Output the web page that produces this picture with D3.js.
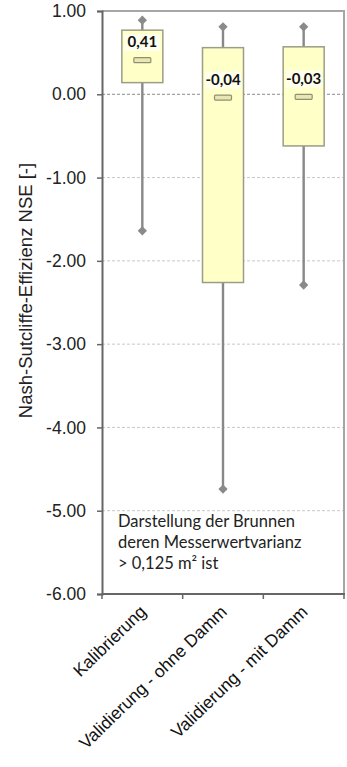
<!DOCTYPE html>
<html>
<head>
<meta charset="utf-8">
<script src="https://cdn.jsdelivr.net/npm/d3@7"></script>
<style>
  html, body { margin: 0; padding: 0; background: #fff; }
  svg { display: block; }
</style>
</head>
<body>
<svg id="chart" width="347" height="767"></svg>
<script>
// Box plot of Nash-Sutcliffe efficiency per model run
const categories = ["Kalibrierung", "Validierung - ohne Damm", "Validierung - mit Damm"];
const whiskerMax = [0.89, 0.81, 0.81];
const q3 = [0.77, 0.56, 0.57];
const median = [0.41, -0.04, -0.03];
const q1 = [0.14, -2.26, -0.62];
const whiskerMin = [-1.64, -4.74, -2.29];
const medianLabels = ["0,41", "-0,04", "-0,03"];
const yTicks = [1, 0, -1, -2, -3, -4, -5, -6];
const yTitle = "Nash-Sutcliffe-Effizienz NSE [-]";
const noteLines = ["Darstellung der Brunnen", "deren Messerwertvarianz", "> 0,125 m² ist"];

const svg = d3.select("#chart");
const plot = { left: 102, right: 344, top: 11, bottom: 594 };
const sans = "'Liberation Sans', Arial, sans-serif";
const humanist = "Lato, 'Open Sans', sans-serif";

const x = d3.scaleBand().domain(categories).range([plot.left, plot.right]).paddingInner(0).paddingOuter(0);
const y = d3.scaleLinear().domain([-6, 1]).range([plot.bottom, plot.top]);

// grid lines
svg.append("g").selectAll("line").data(yTicks.filter(t => t !== 1 && t !== -6)).join("line")
  .attr("x1", plot.left).attr("x2", plot.right)
  .attr("y1", d => y(d)).attr("y2", d => y(d))
  .attr("stroke", d => d === 0 ? "#8a8a8a" : "#c8c8c8")
  .attr("stroke-width", 1)
  .attr("stroke-dasharray", "3,2");

// plot frame (top and right)
svg.append("path")
  .attr("d", `M${plot.left},${plot.top}H${plot.right}V${plot.bottom}`)
  .attr("fill", "none").attr("stroke", "#a6a6a6").attr("stroke-width", 2);

// y axis
const yAxis = d3.axisLeft(y).tickValues(yTicks).tickSize(5).tickPadding(11)
  .tickFormat(d3.format(".2f"));
const gy = svg.append("g").attr("transform", `translate(${plot.left},0)`).call(yAxis);
gy.select(".domain").attr("stroke", "#666").attr("stroke-width", 2);
gy.selectAll(".tick line").attr("stroke", "#666").attr("stroke-width", 1.5);
gy.selectAll(".tick text")
  .attr("font-family", sans)
  .attr("font-size", 17.5).attr("fill", "#222")
  .text(d => d3.format(".2f")(d).replace("−", "-"));

// x axis with ticks at band boundaries
svg.append("line")
  .attr("x1", plot.left).attr("x2", plot.right + 1)
  .attr("y1", plot.bottom).attr("y2", plot.bottom)
  .attr("stroke", "#666").attr("stroke-width", 2);
const bounds = categories.map(c => x(c)).concat([x(categories[2]) + x.bandwidth()]);
svg.append("g").selectAll("line").data(bounds).join("line")
  .attr("x1", d => d).attr("x2", d => d)
  .attr("y1", plot.bottom).attr("y2", plot.bottom + 5)
  .attr("stroke", "#666").attr("stroke-width", 1.5);

svg.append("g").selectAll("text").data(categories).join("text")
  .attr("transform", d => `translate(${x(d) + x.bandwidth() / 2 + 5},${plot.bottom + 19}) rotate(-44)`)
  .attr("text-anchor", "end")
  .attr("font-family", sans)
  .attr("font-size", 17.5).attr("fill", "#111")
  .text(d => d);

// y title
svg.append("text")
  .attr("transform", `translate(32,${(plot.top + plot.bottom) / 2 - 12}) rotate(-90)`)
  .attr("text-anchor", "middle")
  .attr("font-family", sans)
  .attr("font-size", 18.5).attr("fill", "#222")
  .text(yTitle);

// boxes
const boxW = 41;
const g = svg.append("g");
categories.forEach((c, i) => {
  const cx = x(c) + x.bandwidth() / 2;
  // whiskers
  g.append("line").attr("x1", cx).attr("x2", cx)
    .attr("y1", y(whiskerMax[i])).attr("y2", y(whiskerMin[i]))
    .attr("stroke", "#888").attr("stroke-width", 2.4);
  // box
  g.append("rect")
    .attr("x", cx - boxW / 2).attr("y", y(q3[i]))
    .attr("width", boxW).attr("height", y(q1[i]) - y(q3[i]))
    .attr("fill", "#ffffc8").attr("stroke", "#9c9c88").attr("stroke-width", 1.5);
  // whisker end markers
  [whiskerMax[i], whiskerMin[i]].forEach(v => {
    g.append("path")
      .attr("d", d3.symbol(d3.symbolDiamond2, 55)())
      .attr("transform", `translate(${cx},${y(v)})`)
      .attr("fill", "#8a8a8a");
  });
  // median marker
  g.append("rect")
    .attr("x", cx - 8.5).attr("y", y(median[i]) - 2.5)
    .attr("width", 17).attr("height", 5).attr("rx", 1)
    .attr("fill", "#ebe5b0").attr("stroke", "#8f8f78").attr("stroke-width", 1.2);
  // median label
  const ly = y(median[i]) - 13;
  g.append("rect")
    .attr("x", cx - 18).attr("y", ly - 13).attr("width", 36).attr("height", 17)
    .attr("fill", "#fffff2").attr("opacity", 0.9);
  g.append("text")
    .attr("x", cx).attr("y", ly)
    .attr("text-anchor", "middle")
    .attr("font-family", humanist)
    .attr("font-weight", "bold")
    .attr("font-size", 15).attr("fill", "#111")
    .text(medianLabels[i]);
});

// note
svg.append("g").selectAll("text").data(noteLines).join("text")
  .attr("x", 118).attr("y", (d, i) => 527 + i * 21)
  .attr("font-family", humanist)
  .attr("font-size", 16.5).attr("fill", "#222")
  .text(d => d);
</script>
</body>
</html>
